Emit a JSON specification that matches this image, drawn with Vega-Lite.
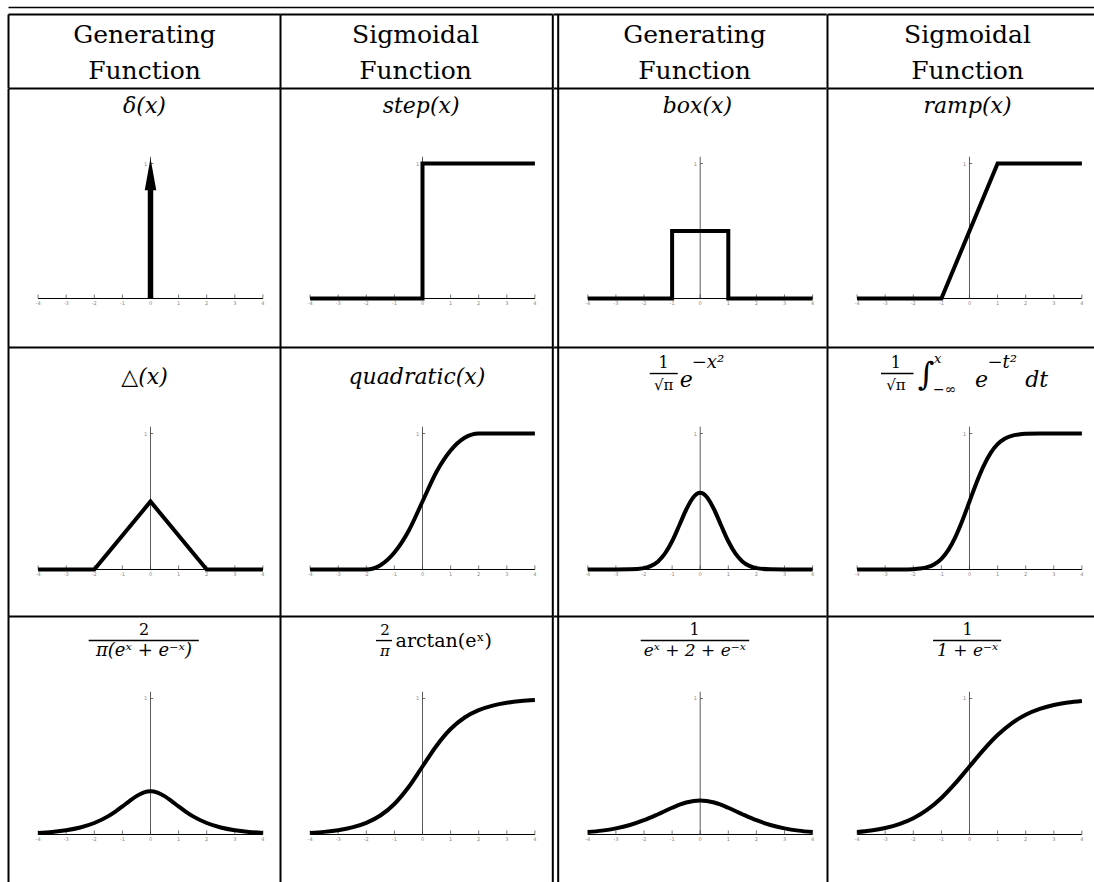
{
"$schema":"https://vega.github.io/schema/vega-lite/v6.json",
"background":"white",
"padding":{"left":7.5,"top":6.5,"right":0,"bottom":0},
"bounds":"flush",
"spacing":0,
"config":{"view":{"stroke":null},"axis":{"disable":true},"font":"DejaVu Serif","text":{"font":"DejaVu Serif","color":"black"}},
"datasets":{
"one":[{}],
"ticks":[{"t":-4,"lab":"-4"},{"t":-3,"lab":"-3"},{"t":-2,"lab":"-2"},{"t":-1,"lab":"-1"},{"t":0,"lab":"0"},{"t":1,"lab":"1"},{"t":2,"lab":"2"},{"t":3,"lab":"3"},{"t":4,"lab":"4"}],
"curves":[
{"f":"delta","i":0,"x":0,"y":0},{"f":"delta","i":1,"x":0,"y":0.82},
{"f":"step","i":0,"x":-4,"y":0},{"f":"step","i":1,"x":0,"y":0},{"f":"step","i":2,"x":0,"y":1},{"f":"step","i":3,"x":4,"y":1},
{"f":"box","i":0,"x":-4,"y":0},{"f":"box","i":1,"x":-1,"y":0},{"f":"box","i":2,"x":-1,"y":0.5},{"f":"box","i":3,"x":1,"y":0.5},{"f":"box","i":4,"x":1,"y":0},{"f":"box","i":5,"x":4,"y":0},
{"f":"ramp","i":0,"x":-4,"y":0},{"f":"ramp","i":1,"x":-1,"y":0},{"f":"ramp","i":2,"x":1,"y":1},{"f":"ramp","i":3,"x":4,"y":1},
{"f":"tri","i":0,"x":-4,"y":0},{"f":"tri","i":1,"x":-2,"y":0},{"f":"tri","i":2,"x":0,"y":0.5},{"f":"tri","i":3,"x":2,"y":0},{"f":"tri","i":4,"x":4,"y":0},
{"f":"quad","x":-4,"y":0},{"f":"quad","x":-3,"y":0},{"f":"quad","x":-2,"y":0},{"f":"quad","x":-1.5,"y":0.03125},{"f":"quad","x":-1,"y":0.125},{"f":"quad","x":-0.5,"y":0.28125},{"f":"quad","x":0,"y":0.5},{"f":"quad","x":0.5,"y":0.71875},{"f":"quad","x":1,"y":0.875},{"f":"quad","x":1.5,"y":0.96875},{"f":"quad","x":2,"y":1},{"f":"quad","x":3,"y":1},{"f":"quad","x":4,"y":1},
{"f":"gauss","x":-4,"y":0},{"f":"gauss","x":-3,"y":0.00007},{"f":"gauss","x":-2.5,"y":0.00109},{"f":"gauss","x":-2,"y":0.01033},{"f":"gauss","x":-1.75,"y":0.02639},{"f":"gauss","x":-1.5,"y":0.05946},{"f":"gauss","x":-1.25,"y":0.11826},{"f":"gauss","x":-1,"y":0.20755},{"f":"gauss","x":-0.75,"y":0.32146},{"f":"gauss","x":-0.5,"y":0.43939},{"f":"gauss","x":-0.25,"y":0.53001},{"f":"gauss","x":0,"y":0.56419},{"f":"gauss","x":0.25,"y":0.53001},{"f":"gauss","x":0.5,"y":0.43939},{"f":"gauss","x":0.75,"y":0.32146},{"f":"gauss","x":1,"y":0.20755},{"f":"gauss","x":1.25,"y":0.11826},{"f":"gauss","x":1.5,"y":0.05946},{"f":"gauss","x":1.75,"y":0.02639},{"f":"gauss","x":2,"y":0.01033},{"f":"gauss","x":2.5,"y":0.00109},{"f":"gauss","x":3,"y":0.00007},{"f":"gauss","x":4,"y":0},
{"f":"erf","x":-4,"y":0},{"f":"erf","x":-3,"y":0.00001},{"f":"erf","x":-2.5,"y":0.0002},{"f":"erf","x":-2,"y":0.00234},{"f":"erf","x":-1.75,"y":0.00666},{"f":"erf","x":-1.5,"y":0.01695},{"f":"erf","x":-1.25,"y":0.03855},{"f":"erf","x":-1,"y":0.07865},{"f":"erf","x":-0.75,"y":0.14442},{"f":"erf","x":-0.5,"y":0.23975},{"f":"erf","x":-0.25,"y":0.36184},{"f":"erf","x":0,"y":0.5},{"f":"erf","x":0.25,"y":0.63816},{"f":"erf","x":0.5,"y":0.76025},{"f":"erf","x":0.75,"y":0.85558},{"f":"erf","x":1,"y":0.92135},{"f":"erf","x":1.25,"y":0.96145},{"f":"erf","x":1.5,"y":0.98305},{"f":"erf","x":1.75,"y":0.99334},{"f":"erf","x":2,"y":0.99766},{"f":"erf","x":2.5,"y":0.9998},{"f":"erf","x":3,"y":0.99999},{"f":"erf","x":4,"y":1},
{"f":"sech","x":-4,"y":0.01166},{"f":"sech","x":-3.5,"y":0.01921},{"f":"sech","x":-3,"y":0.03162},{"f":"sech","x":-2.5,"y":0.05191},{"f":"sech","x":-2,"y":0.08461},{"f":"sech","x":-1.5,"y":0.13531},{"f":"sech","x":-1.25,"y":0.16856},{"f":"sech","x":-1,"y":0.20628},{"f":"sech","x":-0.75,"y":0.24586},{"f":"sech","x":-0.5,"y":0.28228},{"f":"sech","x":-0.25,"y":0.30862},{"f":"sech","x":0,"y":0.31831},{"f":"sech","x":0.25,"y":0.30862},{"f":"sech","x":0.5,"y":0.28228},{"f":"sech","x":0.75,"y":0.24586},{"f":"sech","x":1,"y":0.20628},{"f":"sech","x":1.25,"y":0.16856},{"f":"sech","x":1.5,"y":0.13531},{"f":"sech","x":2,"y":0.08461},{"f":"sech","x":2.5,"y":0.05191},{"f":"sech","x":3,"y":0.03162},{"f":"sech","x":3.5,"y":0.01921},{"f":"sech","x":4,"y":0.01166},
{"f":"gd","x":-4,"y":0.01166},{"f":"gd","x":-3.5,"y":0.01922},{"f":"gd","x":-3,"y":0.03167},{"f":"gd","x":-2.5,"y":0.05214},{"f":"gd","x":-2,"y":0.08564},{"f":"gd","x":-1.5,"y":0.13976},{"f":"gd","x":-1,"y":0.22441},{"f":"gd","x":-0.5,"y":0.34706},{"f":"gd","x":0,"y":0.5},{"f":"gd","x":0.5,"y":0.65294},{"f":"gd","x":1,"y":0.77559},{"f":"gd","x":1.5,"y":0.86024},{"f":"gd","x":2,"y":0.91436},{"f":"gd","x":2.5,"y":0.94786},{"f":"gd","x":3,"y":0.96833},{"f":"gd","x":3.5,"y":0.98078},{"f":"gd","x":4,"y":0.98834},
{"f":"dlog","x":-4,"y":0.01766},{"f":"dlog","x":-3.5,"y":0.02845},{"f":"dlog","x":-3,"y":0.04518},{"f":"dlog","x":-2.5,"y":0.0701},{"f":"dlog","x":-2,"y":0.10499},{"f":"dlog","x":-1.5,"y":0.14915},{"f":"dlog","x":-1,"y":0.19661},{"f":"dlog","x":-0.5,"y":0.235},{"f":"dlog","x":0,"y":0.25},{"f":"dlog","x":0.5,"y":0.235},{"f":"dlog","x":1,"y":0.19661},{"f":"dlog","x":1.5,"y":0.14915},{"f":"dlog","x":2,"y":0.10499},{"f":"dlog","x":2.5,"y":0.0701},{"f":"dlog","x":3,"y":0.04518},{"f":"dlog","x":3.5,"y":0.02845},{"f":"dlog","x":4,"y":0.01766},
{"f":"logi","x":-4,"y":0.01799},{"f":"logi","x":-3.5,"y":0.02931},{"f":"logi","x":-3,"y":0.04743},{"f":"logi","x":-2.5,"y":0.07586},{"f":"logi","x":-2,"y":0.1192},{"f":"logi","x":-1.5,"y":0.18243},{"f":"logi","x":-1,"y":0.26894},{"f":"logi","x":-0.5,"y":0.37754},{"f":"logi","x":0,"y":0.5},{"f":"logi","x":0.5,"y":0.62246},{"f":"logi","x":1,"y":0.73106},{"f":"logi","x":1.5,"y":0.81757},{"f":"logi","x":2,"y":0.8808},{"f":"logi","x":2.5,"y":0.92414},{"f":"logi","x":3,"y":0.95257},{"f":"logi","x":3.5,"y":0.97069},{"f":"logi","x":4,"y":0.98201}
]
},
"vconcat":[
{"width":1086.5,"height":7,"data":{"name":"one"},"mark":{"type":"rule","color":"black","strokeWidth":1.5},"encoding":{"x":{"datum":0,"scale":{"domain":[0,1],"nice":false,"zero":false}},"x2":{"datum":1},"y":{"datum":1,"scale":{"domain":[0,1],"nice":false,"zero":false}}}},
{"concat":[
{"width":272,"height":73.5,"layer":[
{"data":{"name":"one"},"mark":{"type":"rule","color":"black","strokeWidth":2},"encoding":{"x":{"datum":0,"scale":{"domain":[0,272],"nice":false,"zero":false}},"x2":{"datum":272},"y":{"datum":73.5,"scale":{"domain":[0,73.5],"nice":false,"zero":false}}}},
{"data":{"name":"one"},"mark":{"type":"rule","color":"black","strokeWidth":2},"encoding":{"x":{"datum":0},"y":{"datum":0},"y2":{"datum":73.5}}},
{"data":{"name":"one"},"mark":{"type":"text","text":"Generating","fontSize":25,"baseline":"alphabetic"},"encoding":{"x":{"datum":136},"y":{"datum":45}}},
{"data":{"name":"one"},"mark":{"type":"text","text":"Function","fontSize":25,"baseline":"alphabetic"},"encoding":{"x":{"datum":136},"y":{"datum":9}}}
]},
{"width":272.3,"height":73.5,"layer":[
{"data":{"name":"one"},"mark":{"type":"rule","color":"black","strokeWidth":2},"encoding":{"x":{"datum":0,"scale":{"domain":[0,272.3],"nice":false,"zero":false}},"x2":{"datum":272.3},"y":{"datum":73.5,"scale":{"domain":[0,73.5],"nice":false,"zero":false}}}},
{"data":{"name":"one"},"mark":{"type":"rule","color":"black","strokeWidth":2},"encoding":{"x":{"datum":0},"y":{"datum":0},"y2":{"datum":73.5}}},
{"data":{"name":"one"},"mark":{"type":"rule","color":"black","strokeWidth":2},"encoding":{"x":{"datum":272.3},"y":{"datum":0},"y2":{"datum":73.5}}},
{"data":{"name":"one"},"mark":{"type":"text","text":"Sigmoidal","fontSize":25,"baseline":"alphabetic"},"encoding":{"x":{"datum":135},"y":{"datum":45}}},
{"data":{"name":"one"},"mark":{"type":"text","text":"Function","fontSize":25,"baseline":"alphabetic"},"encoding":{"x":{"datum":135},"y":{"datum":9}}}
]},
{"width":273.2,"height":73.5,"layer":[
{"data":{"name":"one"},"mark":{"type":"rule","color":"black","strokeWidth":2},"encoding":{"x":{"datum":0,"scale":{"domain":[0,273.2],"nice":false,"zero":false}},"x2":{"datum":273.2},"y":{"datum":73.5,"scale":{"domain":[0,73.5],"nice":false,"zero":false}}}},
{"data":{"name":"one"},"mark":{"type":"rule","color":"black","strokeWidth":2},"encoding":{"x":{"datum":4.7},"y":{"datum":0},"y2":{"datum":73.5}}},
{"data":{"name":"one"},"mark":{"type":"text","text":"Generating","fontSize":25,"baseline":"alphabetic"},"encoding":{"x":{"datum":141.1},"y":{"datum":45}}},
{"data":{"name":"one"},"mark":{"type":"text","text":"Function","fontSize":25,"baseline":"alphabetic"},"encoding":{"x":{"datum":141.1},"y":{"datum":9}}}
]},
{"width":269,"height":73.5,"layer":[
{"data":{"name":"one"},"mark":{"type":"rule","color":"black","strokeWidth":2},"encoding":{"x":{"datum":0,"scale":{"domain":[0,269],"nice":false,"zero":false}},"x2":{"datum":269},"y":{"datum":73.5,"scale":{"domain":[0,73.5],"nice":false,"zero":false}}}},
{"data":{"name":"one"},"mark":{"type":"rule","color":"black","strokeWidth":2},"encoding":{"x":{"datum":0},"y":{"datum":0},"y2":{"datum":73.5}}},
{"data":{"name":"one"},"mark":{"type":"text","text":"Sigmoidal","fontSize":25,"baseline":"alphabetic"},"encoding":{"x":{"datum":140},"y":{"datum":45}}},
{"data":{"name":"one"},"mark":{"type":"text","text":"Function","fontSize":25,"baseline":"alphabetic"},"encoding":{"x":{"datum":140},"y":{"datum":9}}}
]},
{"width":272,"height":259,"layer":[
{"data":{"name":"one"},"mark":{"type":"rule","color":"black","strokeWidth":2},"encoding":{"x":{"datum":-5.0534,"scale":{"domain":[-5.0534,4.6263],"nice":false,"zero":false}},"x2":{"datum":4.6263},"y":{"datum":1.5556,"scale":{"domain":[-0.363,1.5556],"nice":false,"zero":false}}}},
{"data":{"name":"one"},"mark":{"type":"rule","color":"black","strokeWidth":2},"encoding":{"x":{"datum":-5.0534},"y":{"datum":-0.363},"y2":{"datum":1.5556}}},
{"data":{"name":"ticks"},"mark":{"type":"rule","color":"black","strokeWidth":1},"encoding":{"x":{"aggregate":"min","field":"t","type":"quantitative"},"x2":{"aggregate":"max","field":"t"},"y":{"datum":0}}},
{"data":{"name":"ticks"},"mark":{"type":"rule","color":"#444","strokeWidth":0.7},"encoding":{"x":{"field":"t","type":"quantitative"},"y":{"datum":0},"y2":{"datum":0.03}}},
{"data":{"name":"ticks"},"mark":{"type":"text","font":"DejaVu Sans","fontSize":5,"color":"#888","baseline":"top","dy":3},"encoding":{"x":{"field":"t","type":"quantitative"},"y":{"datum":0},"text":{"field":"lab"}}},
{"data":{"name":"one"},"mark":{"type":"rule","color":"#333","strokeWidth":0.8},"encoding":{"x":{"datum":0},"y":{"datum":0},"y2":{"datum":1.05}}},
{"data":{"name":"one"},"mark":{"type":"rule","color":"#333","strokeWidth":0.7},"encoding":{"x":{"datum":0},"x2":{"datum":0.1},"y":{"datum":1}}},
{"data":{"name":"one"},"mark":{"type":"text","text":"1","font":"DejaVu Sans","fontSize":5,"color":"#888","align":"right","baseline":"middle"},"encoding":{"x":{"datum":-0.12},"y":{"datum":1}}},
{"data":{"name":"curves"},"transform":[{"filter":"datum.f === 'delta'"}],"mark":{"type":"line","color":"black","strokeWidth":5.5,"strokeCap":"butt"},"encoding":{"x":{"field":"x","type":"quantitative"},"y":{"field":"y","type":"quantitative"},"order":{"field":"i"}}},
{"data":{"name":"one"},"mark":{"type":"point","shape":"M0,-1L0.36,1L-0.36,1Z","filled":true,"color":"black","opacity":1,"size":1024,"strokeWidth":0},"encoding":{"x":{"datum":0},"y":{"datum":0.92}}},
{"data":{"name":"one"},"mark":{"type":"text","text":"δ(x)","fontSize":22,"fontStyle":"italic","baseline":"middle"},"encoding":{"x":{"datum":-0.2135},"y":{"datum":1.4296}}}
]},
{"width":272.3,"height":259,"layer":[
{"data":{"name":"one"},"mark":{"type":"rule","color":"black","strokeWidth":2},"encoding":{"x":{"datum":-5.0534,"scale":{"domain":[-5.0534,4.637],"nice":false,"zero":false}},"x2":{"datum":4.637},"y":{"datum":1.5556,"scale":{"domain":[-0.363,1.5556],"nice":false,"zero":false}}}},
{"data":{"name":"one"},"mark":{"type":"rule","color":"black","strokeWidth":2},"encoding":{"x":{"datum":-5.0534},"y":{"datum":-0.363},"y2":{"datum":1.5556}}},
{"data":{"name":"one"},"mark":{"type":"rule","color":"black","strokeWidth":2},"encoding":{"x":{"datum":4.637},"y":{"datum":-0.363},"y2":{"datum":1.5556}}},
{"data":{"name":"ticks"},"mark":{"type":"rule","color":"black","strokeWidth":1},"encoding":{"x":{"aggregate":"min","field":"t","type":"quantitative"},"x2":{"aggregate":"max","field":"t"},"y":{"datum":0}}},
{"data":{"name":"ticks"},"mark":{"type":"rule","color":"#444","strokeWidth":0.7},"encoding":{"x":{"field":"t","type":"quantitative"},"y":{"datum":0},"y2":{"datum":0.03}}},
{"data":{"name":"ticks"},"mark":{"type":"text","font":"DejaVu Sans","fontSize":5,"color":"#888","baseline":"top","dy":3},"encoding":{"x":{"field":"t","type":"quantitative"},"y":{"datum":0},"text":{"field":"lab"}}},
{"data":{"name":"one"},"mark":{"type":"rule","color":"#333","strokeWidth":0.8},"encoding":{"x":{"datum":0},"y":{"datum":0},"y2":{"datum":1.05}}},
{"data":{"name":"one"},"mark":{"type":"rule","color":"#333","strokeWidth":0.7},"encoding":{"x":{"datum":0},"x2":{"datum":0.1},"y":{"datum":1}}},
{"data":{"name":"one"},"mark":{"type":"text","text":"1","font":"DejaVu Sans","fontSize":5,"color":"#888","align":"right","baseline":"middle"},"encoding":{"x":{"datum":-0.12},"y":{"datum":1}}},
{"data":{"name":"curves"},"transform":[{"filter":"datum.f === 'step'"}],"mark":{"type":"line","color":"black","strokeWidth":4},"encoding":{"x":{"field":"x","type":"quantitative"},"y":{"field":"y","type":"quantitative"},"order":{"field":"i"}}},
{"data":{"name":"one"},"mark":{"type":"text","text":"step(x)","fontSize":22,"fontStyle":"italic","baseline":"middle"},"encoding":{"x":{"datum":-0.05},"y":{"datum":1.4296}}}
]},
{"width":273.2,"height":259,"layer":[
{"data":{"name":"one"},"mark":{"type":"rule","color":"black","strokeWidth":2},"encoding":{"x":{"datum":-5.2206,"scale":{"domain":[-5.2206,4.5018],"nice":false,"zero":false}},"x2":{"datum":4.5018},"y":{"datum":1.5556,"scale":{"domain":[-0.363,1.5556],"nice":false,"zero":false}}}},
{"data":{"name":"one"},"mark":{"type":"rule","color":"black","strokeWidth":2},"encoding":{"x":{"datum":-5.0534},"y":{"datum":-0.363},"y2":{"datum":1.5556}}},
{"data":{"name":"ticks"},"mark":{"type":"rule","color":"black","strokeWidth":1},"encoding":{"x":{"aggregate":"min","field":"t","type":"quantitative"},"x2":{"aggregate":"max","field":"t"},"y":{"datum":0}}},
{"data":{"name":"ticks"},"mark":{"type":"rule","color":"#444","strokeWidth":0.7},"encoding":{"x":{"field":"t","type":"quantitative"},"y":{"datum":0},"y2":{"datum":0.03}}},
{"data":{"name":"ticks"},"mark":{"type":"text","font":"DejaVu Sans","fontSize":5,"color":"#888","baseline":"top","dy":3},"encoding":{"x":{"field":"t","type":"quantitative"},"y":{"datum":0},"text":{"field":"lab"}}},
{"data":{"name":"one"},"mark":{"type":"rule","color":"#333","strokeWidth":0.8},"encoding":{"x":{"datum":0},"y":{"datum":0},"y2":{"datum":1.05}}},
{"data":{"name":"one"},"mark":{"type":"rule","color":"#333","strokeWidth":0.7},"encoding":{"x":{"datum":0},"x2":{"datum":0.1},"y":{"datum":1}}},
{"data":{"name":"one"},"mark":{"type":"text","text":"1","font":"DejaVu Sans","fontSize":5,"color":"#888","align":"right","baseline":"middle"},"encoding":{"x":{"datum":-0.12},"y":{"datum":1}}},
{"data":{"name":"curves"},"transform":[{"filter":"datum.f === 'box'"}],"mark":{"type":"line","color":"black","strokeWidth":4},"encoding":{"x":{"field":"x","type":"quantitative"},"y":{"field":"y","type":"quantitative"},"order":{"field":"i"}}},
{"data":{"name":"one"},"mark":{"type":"text","text":"box(x)","fontSize":22,"fontStyle":"italic","baseline":"middle"},"encoding":{"x":{"datum":-0.1},"y":{"datum":1.4296}}}
]},
{"width":269,"height":259,"layer":[
{"data":{"name":"one"},"mark":{"type":"rule","color":"black","strokeWidth":2},"encoding":{"x":{"datum":-5.0534,"scale":{"domain":[-5.0534,4.5196],"nice":false,"zero":false}},"x2":{"datum":4.5196},"y":{"datum":1.5556,"scale":{"domain":[-0.363,1.5556],"nice":false,"zero":false}}}},
{"data":{"name":"one"},"mark":{"type":"rule","color":"black","strokeWidth":2},"encoding":{"x":{"datum":-5.0534},"y":{"datum":-0.363},"y2":{"datum":1.5556}}},
{"data":{"name":"ticks"},"mark":{"type":"rule","color":"black","strokeWidth":1},"encoding":{"x":{"aggregate":"min","field":"t","type":"quantitative"},"x2":{"aggregate":"max","field":"t"},"y":{"datum":0}}},
{"data":{"name":"ticks"},"mark":{"type":"rule","color":"#444","strokeWidth":0.7},"encoding":{"x":{"field":"t","type":"quantitative"},"y":{"datum":0},"y2":{"datum":0.03}}},
{"data":{"name":"ticks"},"mark":{"type":"text","font":"DejaVu Sans","fontSize":5,"color":"#888","baseline":"top","dy":3},"encoding":{"x":{"field":"t","type":"quantitative"},"y":{"datum":0},"text":{"field":"lab"}}},
{"data":{"name":"one"},"mark":{"type":"rule","color":"#333","strokeWidth":0.8},"encoding":{"x":{"datum":0},"y":{"datum":0},"y2":{"datum":1.05}}},
{"data":{"name":"one"},"mark":{"type":"rule","color":"#333","strokeWidth":0.7},"encoding":{"x":{"datum":0},"x2":{"datum":0.1},"y":{"datum":1}}},
{"data":{"name":"one"},"mark":{"type":"text","text":"1","font":"DejaVu Sans","fontSize":5,"color":"#888","align":"right","baseline":"middle"},"encoding":{"x":{"datum":-0.12},"y":{"datum":1}}},
{"data":{"name":"curves"},"transform":[{"filter":"datum.f === 'ramp'"}],"mark":{"type":"line","color":"black","strokeWidth":4},"encoding":{"x":{"field":"x","type":"quantitative"},"y":{"field":"y","type":"quantitative"},"order":{"field":"i"}}},
{"data":{"name":"one"},"mark":{"type":"text","text":"ramp(x)","fontSize":22,"fontStyle":"italic","baseline":"middle"},"encoding":{"x":{"datum":-0.07},"y":{"datum":1.4296}}}
]},
{"width":272,"height":269,"layer":[
{"data":{"name":"one"},"mark":{"type":"rule","color":"black","strokeWidth":2},"encoding":{"x":{"datum":-5.0534,"scale":{"domain":[-5.0534,4.6263],"nice":false,"zero":false}},"x2":{"datum":4.6263},"y":{"datum":1.6324,"scale":{"domain":[-0.3456,1.6324],"nice":false,"zero":false}}}},
{"data":{"name":"one"},"mark":{"type":"rule","color":"black","strokeWidth":2},"encoding":{"x":{"datum":-5.0534},"y":{"datum":-0.3456},"y2":{"datum":1.6324}}},
{"data":{"name":"ticks"},"mark":{"type":"rule","color":"black","strokeWidth":1},"encoding":{"x":{"aggregate":"min","field":"t","type":"quantitative"},"x2":{"aggregate":"max","field":"t"},"y":{"datum":0}}},
{"data":{"name":"ticks"},"mark":{"type":"rule","color":"#444","strokeWidth":0.7},"encoding":{"x":{"field":"t","type":"quantitative"},"y":{"datum":0},"y2":{"datum":0.03}}},
{"data":{"name":"ticks"},"mark":{"type":"text","font":"DejaVu Sans","fontSize":5,"color":"#888","baseline":"top","dy":3},"encoding":{"x":{"field":"t","type":"quantitative"},"y":{"datum":0},"text":{"field":"lab"}}},
{"data":{"name":"one"},"mark":{"type":"rule","color":"#333","strokeWidth":0.8},"encoding":{"x":{"datum":0},"y":{"datum":0},"y2":{"datum":1.05}}},
{"data":{"name":"one"},"mark":{"type":"rule","color":"#333","strokeWidth":0.7},"encoding":{"x":{"datum":0},"x2":{"datum":0.1},"y":{"datum":1}}},
{"data":{"name":"one"},"mark":{"type":"text","text":"1","font":"DejaVu Sans","fontSize":5,"color":"#888","align":"right","baseline":"middle"},"encoding":{"x":{"datum":-0.12},"y":{"datum":1}}},
{"data":{"name":"curves"},"transform":[{"filter":"datum.f === 'tri'"}],"mark":{"type":"line","color":"black","strokeWidth":4},"encoding":{"x":{"field":"x","type":"quantitative"},"y":{"field":"y","type":"quantitative"},"order":{"field":"i"}}},
{"data":{"name":"one"},"mark":{"type":"text","text":"△(x)","fontSize":22,"fontStyle":"italic","baseline":"middle"},"encoding":{"x":{"datum":-0.2135},"y":{"datum":1.419}}}
]},
{"width":272.3,"height":269,"layer":[
{"data":{"name":"one"},"mark":{"type":"rule","color":"black","strokeWidth":2},"encoding":{"x":{"datum":-5.0534,"scale":{"domain":[-5.0534,4.637],"nice":false,"zero":false}},"x2":{"datum":4.637},"y":{"datum":1.6324,"scale":{"domain":[-0.3456,1.6324],"nice":false,"zero":false}}}},
{"data":{"name":"one"},"mark":{"type":"rule","color":"black","strokeWidth":2},"encoding":{"x":{"datum":-5.0534},"y":{"datum":-0.3456},"y2":{"datum":1.6324}}},
{"data":{"name":"one"},"mark":{"type":"rule","color":"black","strokeWidth":2},"encoding":{"x":{"datum":4.637},"y":{"datum":-0.3456},"y2":{"datum":1.6324}}},
{"data":{"name":"ticks"},"mark":{"type":"rule","color":"black","strokeWidth":1},"encoding":{"x":{"aggregate":"min","field":"t","type":"quantitative"},"x2":{"aggregate":"max","field":"t"},"y":{"datum":0}}},
{"data":{"name":"ticks"},"mark":{"type":"rule","color":"#444","strokeWidth":0.7},"encoding":{"x":{"field":"t","type":"quantitative"},"y":{"datum":0},"y2":{"datum":0.03}}},
{"data":{"name":"ticks"},"mark":{"type":"text","font":"DejaVu Sans","fontSize":5,"color":"#888","baseline":"top","dy":3},"encoding":{"x":{"field":"t","type":"quantitative"},"y":{"datum":0},"text":{"field":"lab"}}},
{"data":{"name":"one"},"mark":{"type":"rule","color":"#333","strokeWidth":0.8},"encoding":{"x":{"datum":0},"y":{"datum":0},"y2":{"datum":1.05}}},
{"data":{"name":"one"},"mark":{"type":"rule","color":"#333","strokeWidth":0.7},"encoding":{"x":{"datum":0},"x2":{"datum":0.1},"y":{"datum":1}}},
{"data":{"name":"one"},"mark":{"type":"text","text":"1","font":"DejaVu Sans","fontSize":5,"color":"#888","align":"right","baseline":"middle"},"encoding":{"x":{"datum":-0.12},"y":{"datum":1}}},
{"data":{"name":"curves"},"transform":[{"filter":"datum.f === 'quad'"}],"mark":{"type":"line","color":"black","strokeWidth":4,"interpolate":"monotone"},"encoding":{"x":{"field":"x","type":"quantitative"},"y":{"field":"y","type":"quantitative"}}},
{"data":{"name":"one"},"mark":{"type":"text","text":"quadratic(x)","fontSize":22,"fontStyle":"italic","baseline":"middle"},"encoding":{"x":{"datum":-0.2},"y":{"datum":1.419}}}
]},
{"width":273.2,"height":269,"layer":[
{"data":{"name":"one"},"mark":{"type":"rule","color":"black","strokeWidth":2},"encoding":{"x":{"datum":-5.2206,"scale":{"domain":[-5.2206,4.5018],"nice":false,"zero":false}},"x2":{"datum":4.5018},"y":{"datum":1.6324,"scale":{"domain":[-0.3456,1.6324],"nice":false,"zero":false}}}},
{"data":{"name":"one"},"mark":{"type":"rule","color":"black","strokeWidth":2},"encoding":{"x":{"datum":-5.0534},"y":{"datum":-0.3456},"y2":{"datum":1.6324}}},
{"data":{"name":"ticks"},"mark":{"type":"rule","color":"black","strokeWidth":1},"encoding":{"x":{"aggregate":"min","field":"t","type":"quantitative"},"x2":{"aggregate":"max","field":"t"},"y":{"datum":0}}},
{"data":{"name":"ticks"},"mark":{"type":"rule","color":"#444","strokeWidth":0.7},"encoding":{"x":{"field":"t","type":"quantitative"},"y":{"datum":0},"y2":{"datum":0.03}}},
{"data":{"name":"ticks"},"mark":{"type":"text","font":"DejaVu Sans","fontSize":5,"color":"#888","baseline":"top","dy":3},"encoding":{"x":{"field":"t","type":"quantitative"},"y":{"datum":0},"text":{"field":"lab"}}},
{"data":{"name":"one"},"mark":{"type":"rule","color":"#333","strokeWidth":0.8},"encoding":{"x":{"datum":0},"y":{"datum":0},"y2":{"datum":1.05}}},
{"data":{"name":"one"},"mark":{"type":"rule","color":"#333","strokeWidth":0.7},"encoding":{"x":{"datum":0},"x2":{"datum":0.1},"y":{"datum":1}}},
{"data":{"name":"one"},"mark":{"type":"text","text":"1","font":"DejaVu Sans","fontSize":5,"color":"#888","align":"right","baseline":"middle"},"encoding":{"x":{"datum":-0.12},"y":{"datum":1}}},
{"data":{"name":"curves"},"transform":[{"filter":"datum.f === 'gauss'"}],"mark":{"type":"line","color":"black","strokeWidth":4,"interpolate":"monotone"},"encoding":{"x":{"field":"x","type":"quantitative"},"y":{"field":"y","type":"quantitative"}}},
{"data":{"name":"one"},"mark":{"type":"text","text":"1","fontSize":16,"baseline":"middle"},"encoding":{"x":{"datum":-1.299},"y":{"datum":1.515}}},
{"data":{"name":"one"},"mark":{"type":"rule","color":"black","strokeWidth":1.4},"encoding":{"x":{"datum":-1.797},"x2":{"datum":-0.8},"y":{"datum":1.441}}},
{"data":{"name":"one"},"mark":{"type":"text","text":"√π","fontSize":15,"baseline":"middle"},"encoding":{"x":{"datum":-1.299},"y":{"datum":1.353}}},
{"data":{"name":"one"},"mark":{"type":"text","text":"e","fontSize":22,"fontStyle":"italic","align":"left","baseline":"middle"},"encoding":{"x":{"datum":-0.73},"y":{"datum":1.39}}},
{"data":{"name":"one"},"mark":{"type":"text","text":"−x²","fontSize":18,"fontStyle":"italic","align":"left","baseline":"middle"},"encoding":{"x":{"datum":-0.302},"y":{"datum":1.52}}}
]},
{"width":269,"height":269,"layer":[
{"data":{"name":"one"},"mark":{"type":"rule","color":"black","strokeWidth":2},"encoding":{"x":{"datum":-5.0534,"scale":{"domain":[-5.0534,4.5196],"nice":false,"zero":false}},"x2":{"datum":4.5196},"y":{"datum":1.6324,"scale":{"domain":[-0.3456,1.6324],"nice":false,"zero":false}}}},
{"data":{"name":"one"},"mark":{"type":"rule","color":"black","strokeWidth":2},"encoding":{"x":{"datum":-5.0534},"y":{"datum":-0.3456},"y2":{"datum":1.6324}}},
{"data":{"name":"ticks"},"mark":{"type":"rule","color":"black","strokeWidth":1},"encoding":{"x":{"aggregate":"min","field":"t","type":"quantitative"},"x2":{"aggregate":"max","field":"t"},"y":{"datum":0}}},
{"data":{"name":"ticks"},"mark":{"type":"rule","color":"#444","strokeWidth":0.7},"encoding":{"x":{"field":"t","type":"quantitative"},"y":{"datum":0},"y2":{"datum":0.03}}},
{"data":{"name":"ticks"},"mark":{"type":"text","font":"DejaVu Sans","fontSize":5,"color":"#888","baseline":"top","dy":3},"encoding":{"x":{"field":"t","type":"quantitative"},"y":{"datum":0},"text":{"field":"lab"}}},
{"data":{"name":"one"},"mark":{"type":"rule","color":"#333","strokeWidth":0.8},"encoding":{"x":{"datum":0},"y":{"datum":0},"y2":{"datum":1.05}}},
{"data":{"name":"one"},"mark":{"type":"rule","color":"#333","strokeWidth":0.7},"encoding":{"x":{"datum":0},"x2":{"datum":0.1},"y":{"datum":1}}},
{"data":{"name":"one"},"mark":{"type":"text","text":"1","font":"DejaVu Sans","fontSize":5,"color":"#888","align":"right","baseline":"middle"},"encoding":{"x":{"datum":-0.12},"y":{"datum":1}}},
{"data":{"name":"curves"},"transform":[{"filter":"datum.f === 'erf'"}],"mark":{"type":"line","color":"black","strokeWidth":4,"interpolate":"monotone"},"encoding":{"x":{"field":"x","type":"quantitative"},"y":{"field":"y","type":"quantitative"}}},
{"data":{"name":"one"},"mark":{"type":"text","text":"1","fontSize":16,"baseline":"middle"},"encoding":{"x":{"datum":-2.62},"y":{"datum":1.515}}},
{"data":{"name":"one"},"mark":{"type":"rule","color":"black","strokeWidth":1.4},"encoding":{"x":{"datum":-3.149},"x2":{"datum":-1.993},"y":{"datum":1.441}}},
{"data":{"name":"one"},"mark":{"type":"text","text":"√π","fontSize":15,"baseline":"middle"},"encoding":{"x":{"datum":-2.62},"y":{"datum":1.353}}},
{"data":{"name":"one"},"mark":{"type":"text","text":"∫","fontSize":32,"baseline":"middle"},"encoding":{"x":{"datum":-1.548},"y":{"datum":1.43}}},
{"data":{"name":"one"},"mark":{"type":"text","text":"x","fontSize":13,"fontStyle":"italic","align":"left","baseline":"middle"},"encoding":{"x":{"datum":-1.26},"y":{"datum":1.545}}},
{"data":{"name":"one"},"mark":{"type":"text","text":"−∞","fontSize":14,"align":"left","baseline":"middle"},"encoding":{"x":{"datum":-1.3},"y":{"datum":1.32}}},
{"data":{"name":"one"},"mark":{"type":"text","text":"e","fontSize":22,"fontStyle":"italic","align":"left","baseline":"middle"},"encoding":{"x":{"datum":0.2},"y":{"datum":1.39}}},
{"data":{"name":"one"},"mark":{"type":"text","text":"−t²","fontSize":18,"fontStyle":"italic","align":"left","baseline":"middle"},"encoding":{"x":{"datum":0.64},"y":{"datum":1.52}}},
{"data":{"name":"one"},"mark":{"type":"text","text":"dt","fontSize":22,"fontStyle":"italic","align":"left","baseline":"middle"},"encoding":{"x":{"datum":1.98},"y":{"datum":1.39}}}
]},
{"width":272,"height":267,"layer":[
{"data":{"name":"one"},"mark":{"type":"rule","color":"black","strokeWidth":2},"encoding":{"x":{"datum":-5.0534,"scale":{"domain":[-5.0534,4.6263],"nice":false,"zero":false}},"x2":{"datum":4.6263},"y":{"datum":1.6029,"scale":{"domain":[-0.3603,1.6029],"nice":false,"zero":false}}}},
{"data":{"name":"one"},"mark":{"type":"rule","color":"black","strokeWidth":2},"encoding":{"x":{"datum":-5.0534},"y":{"datum":-0.3603},"y2":{"datum":1.6029}}},
{"data":{"name":"ticks"},"mark":{"type":"rule","color":"black","strokeWidth":1},"encoding":{"x":{"aggregate":"min","field":"t","type":"quantitative"},"x2":{"aggregate":"max","field":"t"},"y":{"datum":0}}},
{"data":{"name":"ticks"},"mark":{"type":"rule","color":"#444","strokeWidth":0.7},"encoding":{"x":{"field":"t","type":"quantitative"},"y":{"datum":0},"y2":{"datum":0.03}}},
{"data":{"name":"ticks"},"mark":{"type":"text","font":"DejaVu Sans","fontSize":5,"color":"#888","baseline":"top","dy":3},"encoding":{"x":{"field":"t","type":"quantitative"},"y":{"datum":0},"text":{"field":"lab"}}},
{"data":{"name":"one"},"mark":{"type":"rule","color":"#333","strokeWidth":0.8},"encoding":{"x":{"datum":0},"y":{"datum":0},"y2":{"datum":1.05}}},
{"data":{"name":"one"},"mark":{"type":"rule","color":"#333","strokeWidth":0.7},"encoding":{"x":{"datum":0},"x2":{"datum":0.1},"y":{"datum":1}}},
{"data":{"name":"one"},"mark":{"type":"text","text":"1","font":"DejaVu Sans","fontSize":5,"color":"#888","align":"right","baseline":"middle"},"encoding":{"x":{"datum":-0.12},"y":{"datum":1}}},
{"data":{"name":"curves"},"transform":[{"filter":"datum.f === 'sech'"}],"mark":{"type":"line","color":"black","strokeWidth":4,"interpolate":"monotone"},"encoding":{"x":{"field":"x","type":"quantitative"},"y":{"field":"y","type":"quantitative"}}},
{"data":{"name":"one"},"mark":{"type":"text","text":"2","fontSize":16,"baseline":"middle"},"encoding":{"x":{"datum":-0.231},"y":{"datum":1.5}}},
{"data":{"name":"one"},"mark":{"type":"rule","color":"black","strokeWidth":1.4},"encoding":{"x":{"datum":-2.2},"x2":{"datum":1.72},"y":{"datum":1.426}}},
{"data":{"name":"one"},"mark":{"type":"text","text":"π(eˣ + e⁻ˣ)","fontSize":18,"fontStyle":"italic","baseline":"middle"},"encoding":{"x":{"datum":-0.231},"y":{"datum":1.346}}}
]},
{"width":272.3,"height":267,"layer":[
{"data":{"name":"one"},"mark":{"type":"rule","color":"black","strokeWidth":2},"encoding":{"x":{"datum":-5.0534,"scale":{"domain":[-5.0534,4.637],"nice":false,"zero":false}},"x2":{"datum":4.637},"y":{"datum":1.6029,"scale":{"domain":[-0.3603,1.6029],"nice":false,"zero":false}}}},
{"data":{"name":"one"},"mark":{"type":"rule","color":"black","strokeWidth":2},"encoding":{"x":{"datum":-5.0534},"y":{"datum":-0.3603},"y2":{"datum":1.6029}}},
{"data":{"name":"one"},"mark":{"type":"rule","color":"black","strokeWidth":2},"encoding":{"x":{"datum":4.637},"y":{"datum":-0.3603},"y2":{"datum":1.6029}}},
{"data":{"name":"ticks"},"mark":{"type":"rule","color":"black","strokeWidth":1},"encoding":{"x":{"aggregate":"min","field":"t","type":"quantitative"},"x2":{"aggregate":"max","field":"t"},"y":{"datum":0}}},
{"data":{"name":"ticks"},"mark":{"type":"rule","color":"#444","strokeWidth":0.7},"encoding":{"x":{"field":"t","type":"quantitative"},"y":{"datum":0},"y2":{"datum":0.03}}},
{"data":{"name":"ticks"},"mark":{"type":"text","font":"DejaVu Sans","fontSize":5,"color":"#888","baseline":"top","dy":3},"encoding":{"x":{"field":"t","type":"quantitative"},"y":{"datum":0},"text":{"field":"lab"}}},
{"data":{"name":"one"},"mark":{"type":"rule","color":"#333","strokeWidth":0.8},"encoding":{"x":{"datum":0},"y":{"datum":0},"y2":{"datum":1.05}}},
{"data":{"name":"one"},"mark":{"type":"rule","color":"#333","strokeWidth":0.7},"encoding":{"x":{"datum":0},"x2":{"datum":0.1},"y":{"datum":1}}},
{"data":{"name":"one"},"mark":{"type":"text","text":"1","font":"DejaVu Sans","fontSize":5,"color":"#888","align":"right","baseline":"middle"},"encoding":{"x":{"datum":-0.12},"y":{"datum":1}}},
{"data":{"name":"curves"},"transform":[{"filter":"datum.f === 'gd'"}],"mark":{"type":"line","color":"black","strokeWidth":4,"interpolate":"monotone"},"encoding":{"x":{"field":"x","type":"quantitative"},"y":{"field":"y","type":"quantitative"}}},
{"data":{"name":"one"},"mark":{"type":"text","text":"2","fontSize":15,"baseline":"middle"},"encoding":{"x":{"datum":-1.335},"y":{"datum":1.5}}},
{"data":{"name":"one"},"mark":{"type":"rule","color":"black","strokeWidth":1.4},"encoding":{"x":{"datum":-1.655},"x2":{"datum":-1.085},"y":{"datum":1.426}}},
{"data":{"name":"one"},"mark":{"type":"text","text":"π","fontSize":15,"fontStyle":"italic","baseline":"middle"},"encoding":{"x":{"datum":-1.335},"y":{"datum":1.346}}},
{"data":{"name":"one"},"mark":{"type":"text","text":"arctan(eˣ)","fontSize":19,"align":"left","baseline":"middle"},"encoding":{"x":{"datum":-0.959},"y":{"datum":1.42}}}
]},
{"width":273.2,"height":267,"layer":[
{"data":{"name":"one"},"mark":{"type":"rule","color":"black","strokeWidth":2},"encoding":{"x":{"datum":-5.2206,"scale":{"domain":[-5.2206,4.5018],"nice":false,"zero":false}},"x2":{"datum":4.5018},"y":{"datum":1.6029,"scale":{"domain":[-0.3603,1.6029],"nice":false,"zero":false}}}},
{"data":{"name":"one"},"mark":{"type":"rule","color":"black","strokeWidth":2},"encoding":{"x":{"datum":-5.0534},"y":{"datum":-0.3603},"y2":{"datum":1.6029}}},
{"data":{"name":"ticks"},"mark":{"type":"rule","color":"black","strokeWidth":1},"encoding":{"x":{"aggregate":"min","field":"t","type":"quantitative"},"x2":{"aggregate":"max","field":"t"},"y":{"datum":0}}},
{"data":{"name":"ticks"},"mark":{"type":"rule","color":"#444","strokeWidth":0.7},"encoding":{"x":{"field":"t","type":"quantitative"},"y":{"datum":0},"y2":{"datum":0.03}}},
{"data":{"name":"ticks"},"mark":{"type":"text","font":"DejaVu Sans","fontSize":5,"color":"#888","baseline":"top","dy":3},"encoding":{"x":{"field":"t","type":"quantitative"},"y":{"datum":0},"text":{"field":"lab"}}},
{"data":{"name":"one"},"mark":{"type":"rule","color":"#333","strokeWidth":0.8},"encoding":{"x":{"datum":0},"y":{"datum":0},"y2":{"datum":1.05}}},
{"data":{"name":"one"},"mark":{"type":"rule","color":"#333","strokeWidth":0.7},"encoding":{"x":{"datum":0},"x2":{"datum":0.1},"y":{"datum":1}}},
{"data":{"name":"one"},"mark":{"type":"text","text":"1","font":"DejaVu Sans","fontSize":5,"color":"#888","align":"right","baseline":"middle"},"encoding":{"x":{"datum":-0.12},"y":{"datum":1}}},
{"data":{"name":"curves"},"transform":[{"filter":"datum.f === 'dlog'"}],"mark":{"type":"line","color":"black","strokeWidth":4,"interpolate":"monotone"},"encoding":{"x":{"field":"x","type":"quantitative"},"y":{"field":"y","type":"quantitative"}}},
{"data":{"name":"one"},"mark":{"type":"text","text":"1","fontSize":16,"baseline":"middle"},"encoding":{"x":{"datum":-0.196},"y":{"datum":1.5}}},
{"data":{"name":"one"},"mark":{"type":"rule","color":"black","strokeWidth":1.4},"encoding":{"x":{"datum":-2.117},"x2":{"datum":1.744},"y":{"datum":1.426}}},
{"data":{"name":"one"},"mark":{"type":"text","text":"eˣ + 2 + e⁻ˣ","fontSize":17,"fontStyle":"italic","baseline":"middle"},"encoding":{"x":{"datum":-0.196},"y":{"datum":1.346}}}
]},
{"width":269,"height":267,"layer":[
{"data":{"name":"one"},"mark":{"type":"rule","color":"black","strokeWidth":2},"encoding":{"x":{"datum":-5.0534,"scale":{"domain":[-5.0534,4.5196],"nice":false,"zero":false}},"x2":{"datum":4.5196},"y":{"datum":1.6029,"scale":{"domain":[-0.3603,1.6029],"nice":false,"zero":false}}}},
{"data":{"name":"one"},"mark":{"type":"rule","color":"black","strokeWidth":2},"encoding":{"x":{"datum":-5.0534},"y":{"datum":-0.3603},"y2":{"datum":1.6029}}},
{"data":{"name":"ticks"},"mark":{"type":"rule","color":"black","strokeWidth":1},"encoding":{"x":{"aggregate":"min","field":"t","type":"quantitative"},"x2":{"aggregate":"max","field":"t"},"y":{"datum":0}}},
{"data":{"name":"ticks"},"mark":{"type":"rule","color":"#444","strokeWidth":0.7},"encoding":{"x":{"field":"t","type":"quantitative"},"y":{"datum":0},"y2":{"datum":0.03}}},
{"data":{"name":"ticks"},"mark":{"type":"text","font":"DejaVu Sans","fontSize":5,"color":"#888","baseline":"top","dy":3},"encoding":{"x":{"field":"t","type":"quantitative"},"y":{"datum":0},"text":{"field":"lab"}}},
{"data":{"name":"one"},"mark":{"type":"rule","color":"#333","strokeWidth":0.8},"encoding":{"x":{"datum":0},"y":{"datum":0},"y2":{"datum":1.05}}},
{"data":{"name":"one"},"mark":{"type":"rule","color":"#333","strokeWidth":0.7},"encoding":{"x":{"datum":0},"x2":{"datum":0.1},"y":{"datum":1}}},
{"data":{"name":"one"},"mark":{"type":"text","text":"1","font":"DejaVu Sans","fontSize":5,"color":"#888","align":"right","baseline":"middle"},"encoding":{"x":{"datum":-0.12},"y":{"datum":1}}},
{"data":{"name":"curves"},"transform":[{"filter":"datum.f === 'logi'"}],"mark":{"type":"line","color":"black","strokeWidth":4,"interpolate":"monotone"},"encoding":{"x":{"field":"x","type":"quantitative"},"y":{"field":"y","type":"quantitative"}}},
{"data":{"name":"one"},"mark":{"type":"text","text":"1","fontSize":16,"baseline":"middle"},"encoding":{"x":{"datum":-0.071},"y":{"datum":1.5}}},
{"data":{"name":"one"},"mark":{"type":"rule","color":"black","strokeWidth":1.4},"encoding":{"x":{"datum":-1.295},"x2":{"datum":1.128},"y":{"datum":1.426}}},
{"data":{"name":"one"},"mark":{"type":"text","text":"1 + e⁻ˣ","fontSize":17,"fontStyle":"italic","baseline":"middle"},"encoding":{"x":{"datum":-0.071},"y":{"datum":1.346}}}
]}
],"columns":4,"spacing":0,"align":"each","bounds":"flush"}
]
}
